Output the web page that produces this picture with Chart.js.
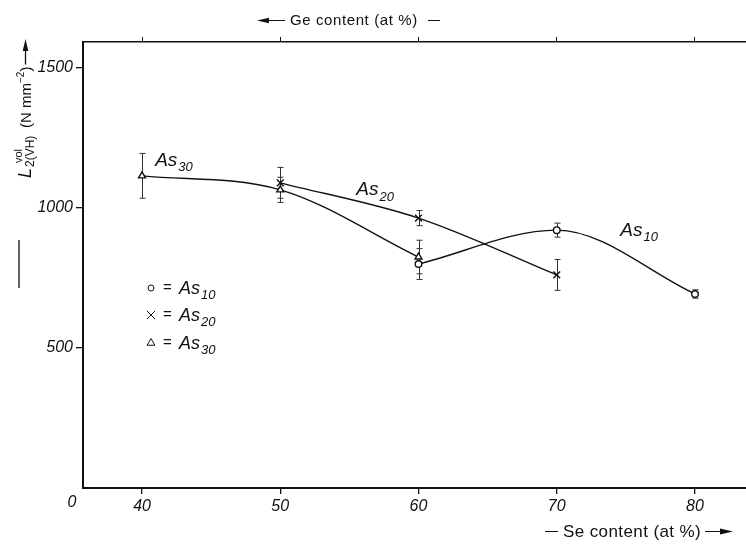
<!DOCTYPE html>
<html>
<head>
<meta charset="utf-8">
<script src="https://cdn.jsdelivr.net/npm/chart.js@4.4.0/dist/chart.umd.min.js"></script>
<style>
html, body { margin: 0; padding: 0; background: #fff; }
</style>
</head>
<body>
<canvas id="mycanvas" width="746" height="546"></canvas>
<script>
// Se content (at %) ticks and hardness ticks
var seTicks = [40, 50, 60, 70, 80];
var yTicks = [500, 1000, 1500];

// As10 series
var as10Se = [60, 70, 80];
var as10Val = [800, 921, 693];
var as10Err = [55, 25, 15];

// As20 series
var as20Se = [50, 60, 70];
var as20Val = [1090, 964, 761];
var as20Err = [55, 27, 55];

// As30 series
var as30Se = [40, 50, 60];
var as30Val = [1115, 1065, 825];
var as30Err = [80, 45, 60];

var ink = '#111';
var fontFam = '"Liberation Sans", Arial, sans-serif';

function pts(xs, ys) {
	var out = [];
	for (var i in xs) out.push({x: xs[i], y: ys[i]});
	return out;
}

function series(label, xs, ys, errs, style, radius) {
	return {
		label: label,
		data: pts(xs, ys),
		errors: errs,
		borderColor: ink,
		borderWidth: 1.4,
		fill: false,
		cubicInterpolationMode: 'monotone',
		pointStyle: style,
		pointRadius: radius,
		pointBackgroundColor: '#fff',
		pointBorderColor: ink,
		pointBorderWidth: 1.4
	};
}

// error bars, drawn under the markers
var errorBars = {
	id: 'errorBars',
	beforeDatasetsDraw: function(chart) {
		var ctx = chart.ctx, xs = chart.scales.x, ys = chart.scales.y;
		ctx.save();
		ctx.strokeStyle = '#333';
		ctx.lineWidth = 1;
		chart.data.datasets.forEach(function(ds) {
			ds.data.forEach(function(p, i) {
				var e = ds.errors[i];
				var px = Math.round(xs.getPixelForValue(p.x)) + 0.5;
				var top = ys.getPixelForValue(p.y + e);
				var bot = ys.getPixelForValue(p.y - e);
				ctx.beginPath();
				ctx.moveTo(px, top); ctx.lineTo(px, bot);
				ctx.moveTo(px - 3, top); ctx.lineTo(px + 3, top);
				ctx.moveTo(px - 3, bot); ctx.lineTo(px + 3, bot);
				ctx.stroke();
			});
		});
		ctx.restore();
	}
};

function drawAs(ctx, x, y, sub, size) {
	ctx.font = 'italic ' + size + 'px ' + fontFam;
	ctx.textAlign = 'left';
	ctx.textBaseline = 'alphabetic';
	ctx.fillText('As', x, y);
	var w = ctx.measureText('As').width;
	ctx.font = 'italic ' + Math.round(size * 0.7) + 'px ' + fontFam;
	ctx.fillText(sub, x + w + 1, y + size * 0.28);
}

function arrowHead(ctx, x, y, dir, len, half) {
	ctx.beginPath();
	ctx.moveTo(x, y);
	ctx.lineTo(x - dir * len, y - half);
	ctx.lineTo(x - dir * len, y + half);
	ctx.closePath();
	ctx.fill();
}

var labels = {
	id: 'labels',
	afterDraw: function(chart) {
		var ctx = chart.ctx, xs = chart.scales.x, ys = chart.scales.y;
		ctx.save();
		ctx.fillStyle = ink;
		ctx.strokeStyle = ink;

		// curve labels
		drawAs(ctx, xs.getPixelForValue(40.95), ys.getPixelForValue(1150), '30', 19);
		drawAs(ctx, xs.getPixelForValue(55.5), ys.getPixelForValue(1045), '20', 19);
		drawAs(ctx, xs.getPixelForValue(74.6), ys.getPixelForValue(900), '10', 19);

		// key
		var keyStyles = ['circle', 'crossRot', 'triangle'];
		var keySize = [3, 5.8, 4.5];
		var keySubs = ['10', '20', '30'];
		var keyY = [288, 315, 343];
		for (var i = 0; i < 3; i++) {
			ctx.fillStyle = '#fff';
			Chart.helpers.drawPoint(ctx, {
				pointStyle: keyStyles[i], radius: keySize[i],
				borderWidth: 1.3, rotation: 0
			}, 151, keyY[i]);
			ctx.fillStyle = ink;
			ctx.font = '15px ' + fontFam;
			ctx.textAlign = 'left';
			ctx.textBaseline = 'middle';
			ctx.fillText('=', 163, keyY[i]);
			drawAs(ctx, 179, keyY[i] + 6, keySubs[i], 18);
		}

		// origin label
		ctx.font = 'italic 16px ' + fontFam;
		ctx.textAlign = 'center';
		ctx.textBaseline = 'middle';
		ctx.fillText('0', 72, 503);

		ctx.lineWidth = 1.2;
		ctx.textAlign = 'left';
		// top title: <- Ge content (at %) -
		ctx.font = '15px ' + fontFam;
		ctx.letterSpacing = '0.6px';
		ctx.fillText('Ge content (at %)', 290, 21);
		ctx.beginPath();
		ctx.moveTo(266, 20.5); ctx.lineTo(285, 20.5);
		ctx.moveTo(428, 20.5); ctx.lineTo(440, 20.5);
		ctx.stroke();
		arrowHead(ctx, 257, 20.5, -1, 12, 2.8);

		// bottom title: - Se content (at %) ->
		ctx.font = '17px ' + fontFam;
		ctx.letterSpacing = '0.4px';
		ctx.fillText('Se content (at %)', 563, 532);
		ctx.letterSpacing = '0px';
		ctx.beginPath();
		ctx.moveTo(545, 531.5); ctx.lineTo(558, 531.5);
		ctx.moveTo(705, 531.5); ctx.lineTo(722, 531.5);
		ctx.stroke();
		arrowHead(ctx, 733, 531.5, 1, 13, 3);

		// y title, rotated
		ctx.translate(31, 288);
		ctx.rotate(-Math.PI / 2);
		ctx.lineWidth = 1.3;
		ctx.beginPath();
		ctx.moveTo(0, -12); ctx.lineTo(48, -12);
		ctx.stroke();
		ctx.textBaseline = 'alphabetic';
		ctx.font = 'italic 18px ' + fontFam;
		ctx.fillText('L', 110, 0);
		ctx.font = '12px ' + fontFam;
		ctx.fillText('2(VH)', 121, 3);
		ctx.font = '11px ' + fontFam;
		ctx.fillText('vol', 125, -9);
		ctx.font = '15px ' + fontFam;
		ctx.fillText('(N mm', 160, 0);
		var w = ctx.measureText('(N mm').width;
		ctx.font = '10px ' + fontFam;
		ctx.fillText('\u22122', 160 + w, -7);
		var w2 = ctx.measureText('\u22122').width;
		ctx.font = '15px ' + fontFam;
		ctx.fillText(')', 160 + w + w2, 0);
		var end = 160 + w + w2 + ctx.measureText(')').width;
		ctx.beginPath();
		ctx.moveTo(end + 2, -5.5); ctx.lineTo(240, -5.5);
		ctx.stroke();
		arrowHead(ctx, 249, -5.5, 1, 12, 2.8);
		ctx.restore();
	}
};

function zeroPad(scale) {
	scale.paddingLeft = 0;
	scale.paddingRight = 0;
}

function plain(v) { return String(v); }

var chartdata = {
	datasets: [
		series('As10', as10Se, as10Val, as10Err, 'circle', 3.3),
		series('As20', as20Se, as20Val, as20Err, 'crossRot', 4.8),
		series('As30', as30Se, as30Val, as30Err, 'triangle', 4)
	]
};

var ctx = document.getElementById('mycanvas');

var hardness = new Chart(ctx, {
	type: 'line',
	data: chartdata,
	plugins: [errorBars, labels],
	options: {
		responsive: false,
		animation: false,
		devicePixelRatio: 1,
		layout: { padding: 0, autoPadding: false },
		plugins: {
			legend: { display: false },
			tooltip: { enabled: false }
		},
		scales: {
			x: {
				type: 'linear',
				position: 'bottom',
				min: 35.73,
				max: 83.69,
				afterBuildTicks: function(scale) {
					scale.ticks = seTicks.map(function(v) { return {value: v}; });
				},
				afterFit: function(scale) { scale.height = 58; zeroPad(scale); },
				border: { color: ink, width: 2 },
				grid: { drawOnChartArea: false, drawTicks: true, tickLength: 6, color: ink, lineWidth: 1.3 },
				ticks: {
					color: ink,
					padding: 3,
					maxRotation: 0,
					callback: plain,
					font: { family: fontFam, size: 16, style: 'italic' }
				}
			},
			x2: {
				type: 'linear',
				position: 'top',
				min: 35.73,
				max: 83.69,
				afterBuildTicks: function(scale) {
					scale.ticks = seTicks.map(function(v) { return {value: v}; });
				},
				afterFit: function(scale) { scale.height = 42; zeroPad(scale); },
				border: { color: ink, width: 1.5 },
				grid: { drawOnChartArea: false, drawTicks: true, tickLength: 5, color: ink, lineWidth: 1 },
				ticks: { display: true, callback: function() { return ''; } }
			},
			y: {
				type: 'linear',
				min: 0,
				max: 1593,
				afterBuildTicks: function(scale) {
					scale.ticks = yTicks.map(function(v) { return {value: v}; });
				},
				afterFit: function(scale) { scale.width = 83; },
				border: { color: ink, width: 2 },
				grid: { drawOnChartArea: false, drawTicks: true, tickLength: 7, color: ink, lineWidth: 1.3 },
				ticks: {
					color: ink,
					padding: 3,
					callback: plain,
					font: { family: fontFam, size: 16, style: 'italic' }
				}
			}
		}
	}
});
</script>
</body>
</html>
